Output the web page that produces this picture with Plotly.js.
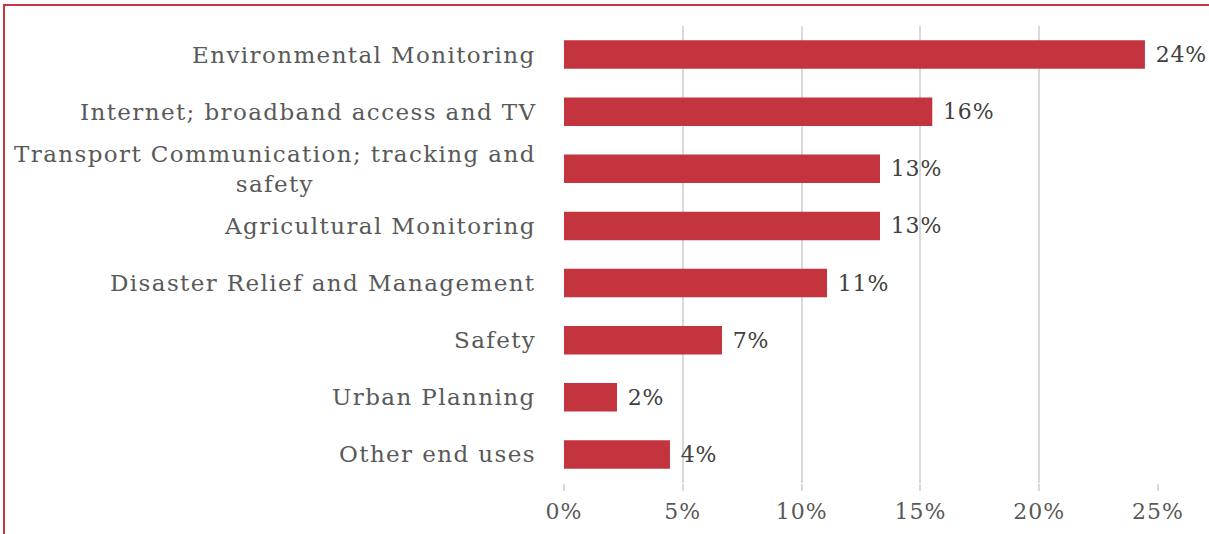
<!DOCTYPE html>
<html>
<head>
<meta charset="utf-8">
<script src="https://cdn.plot.ly/plotly-3.0.1.min.js"></script>
<style>
  html, body { margin: 0; padding: 0; background: #ffffff; }
  #wrap { position: relative; width: 1209px; height: 534px; overflow: hidden; }
  #frame { position: absolute; left: 3px; top: 4px; width: 1300px; height: 700px;
           border: 2px solid #C8373F; pointer-events: none; z-index: 5; }
  .annotation-text { letter-spacing: 1.4px; }
  .xtick text { letter-spacing: 1px; }
  .bartext { letter-spacing: 0.8px; }
</style>
</head>
<body>
<div id="wrap">
  <div id="chart" style="width:1209px;height:534px;"></div>
  <div id="frame"></div>
</div>
<script>
// Data
const categories = [
  "Environmental Monitoring",
  "Internet; broadband access and TV",
  "Transport Communication; tracking and<br>safety",
  "Agricultural Monitoring",
  "Disaster Relief and Management",
  "Safety",
  "Urban Planning",
  "Other end uses"
];
const shares = [0.2445, 0.155, 0.133, 0.133, 0.1107, 0.0665, 0.0223, 0.0446];
const shareLabels = ["24%", "16%", "13%", "13%", "11%", "7%", "2%", "4%"];
const tickVals = [0, 0.05, 0.10, 0.15, 0.20, 0.25];
const tickText = ["0%", "5%", "10%", "15%", "20%", "25%"];

const FONT = "DejaVu Serif, Georgia, serif";

const trace = {
  type: "bar",
  orientation: "h",
  x: shares,
  y: categories,
  text: shareLabels,
  texttemplate: " %{text}",
  textposition: "outside",
  constraintext: "none",
  cliponaxis: false,
  textfont: { family: FONT, size: 22, color: "#404040" },
  marker: { color: "#C4343E", line: { width: 0 } },
  hoverinfo: "skip"
};

const annotations = categories.map(c => ({
  xref: "paper", yref: "y",
  x: 0, y: c,
  xanchor: "right", yanchor: "middle",
  xshift: -26,
  align: "center",
  showarrow: false,
  text: c,
  font: { family: FONT, size: 23, color: "#595959" }
}));

const layout = {
  width: 1209,
  height: 534,
  margin: { l: 564, r: 51, t: 26, b: 51, pad: 0 },
  paper_bgcolor: "#ffffff",
  plot_bgcolor: "#ffffff",
  showlegend: false,
  bargap: 0.5,
  xaxis: {
    range: [0, 0.25],
    tickvals: tickVals,
    ticktext: tickText,
    showgrid: true,
    gridcolor: "#D9D9D9",
    gridwidth: 2,
    zeroline: false,
    showline: false,
    ticks: "outside",
    ticklen: 7,
    tickwidth: 2,
    tickcolor: "#D9D9D9",
    ticklabelstandoff: 2,
    tickfont: { family: FONT, size: 22, color: "#595959" },
    fixedrange: true
  },
  yaxis: {
    autorange: "reversed",
    showticklabels: false,
    showgrid: false,
    zeroline: false,
    showline: false,
    ticks: "",
    fixedrange: true
  },
  annotations: annotations
};

Plotly.newPlot("chart", [trace], layout, { displayModeBar: false, staticPlot: true });
</script>
</body>
</html>
